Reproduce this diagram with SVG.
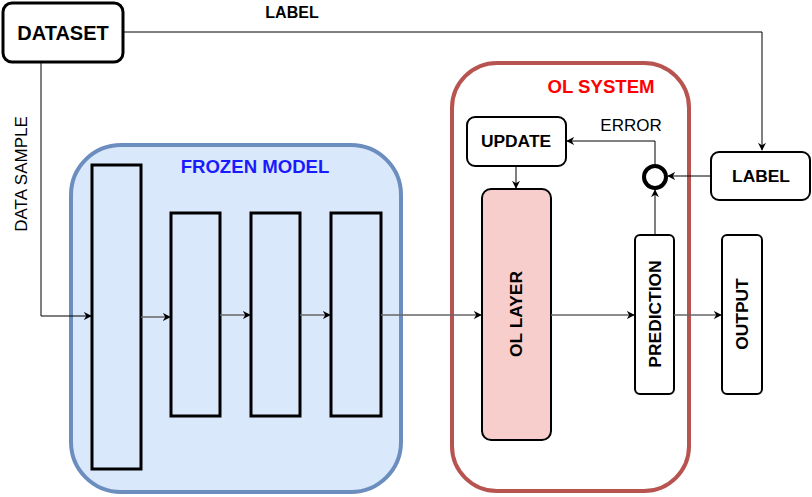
<svg xmlns="http://www.w3.org/2000/svg" width="812" height="497" viewBox="0 0 812 497">
<style>
text{font-family:"Liberation Sans",Arial,sans-serif;text-anchor:middle;dominant-baseline:central}
.b{font-weight:bold;font-size:17.4px;fill:#000}
.n{font-size:17px;fill:#000}
.box{fill:#fff;stroke:#000;stroke-width:2}
.layer{fill:#dae8fc;stroke:#000;stroke-width:3}
.c{fill:none;stroke:#000;stroke-width:1}
.g{fill:none;stroke:#666;stroke-width:1.5}
</style>
<defs>
<marker id="a" viewBox="0 0 10 10" refX="9" refY="5" markerWidth="8" markerHeight="8" markerUnits="userSpaceOnUse" orient="auto"><path d="M0,0 L10,5 L0,10 L3,5 z" fill="#000"/></marker>
</defs>
<g id="frozen-model">
<rect x="71" y="145" width="330" height="347" rx="50" fill="#dae8fc" stroke="#6c8ebf" stroke-width="4"/>
<text x="255" y="166" class="b" style="fill:#1a1aff;font-size:18.6px">FROZEN MODEL</text>
</g>
<g id="ol-system">
<rect x="452" y="63" width="237" height="428" rx="45" fill="#fff" stroke="#b85450" stroke-width="4"/>
<text x="601" y="86" class="b" style="fill:#ff0000;font-size:18.6px">OL SYSTEM</text>
</g>
<g id="layer1"><rect x="92" y="165" width="49" height="304" class="layer"/></g>
<g id="layer2"><rect x="171" y="213" width="49" height="203" class="layer"/></g>
<g id="layer3"><rect x="251" y="213" width="49" height="203" class="layer"/></g>
<g id="layer4"><rect x="331" y="213" width="50" height="203" class="layer"/></g>
<g id="dataset"><rect x="3" y="3" width="120" height="59" rx="9" fill="#fff" stroke="#000" stroke-width="3"/><text x="63" y="33" class="b" style="font-size:20px">DATASET</text></g>
<g id="label"><rect x="711" y="152" width="99" height="48" rx="8" class="box"/><text x="761" y="176" class="b">LABEL</text></g>
<g id="update"><rect x="467" y="117" width="99" height="49" rx="8" class="box"/><text x="516" y="141" class="b">UPDATE</text></g>
<g id="ol-layer"><rect x="482" y="189" width="69" height="251" rx="9" fill="#f8cecc" stroke="#000" stroke-width="2"/><text transform="translate(516,314) rotate(-90)" class="b">OL LAYER</text></g>
<g id="prediction"><rect x="635" y="235" width="39" height="159" rx="5" class="box"/><text transform="translate(655,314) rotate(-90)" class="b">PREDICTION</text></g>
<g id="output"><rect x="722" y="235" width="40" height="159" rx="5" class="box"/><text transform="translate(742,314) rotate(-90)" class="b">OUTPUT</text></g>
<g id="error-node"><circle cx="655" cy="177" r="11" fill="#fff" stroke="#000" stroke-width="4"/></g>
<g id="connectors">
<path d="M123,32 H762 V150" class="c" marker-end="url(#a)"/>
<path d="M41,62 V316 H91" class="c" marker-end="url(#a)"/>
<path d="M141,317 H170" class="g" marker-end="url(#a)"/>
<path d="M220,315 H250" class="g" marker-end="url(#a)"/>
<path d="M300,315 H330" class="g" marker-end="url(#a)"/>
<path d="M381,315 H481" class="g" marker-end="url(#a)"/>
<path d="M551,315 H634" class="g" marker-end="url(#a)"/>
<path d="M674,315 H721" class="g" marker-end="url(#a)"/>
<path d="M516,166 V188" class="c" marker-end="url(#a)"/>
<path d="M711,176 H668" class="c" marker-end="url(#a)"/>
<path d="M655,235 V190" class="c" marker-end="url(#a)"/>
<path d="M655,164 V141 H567" class="c" marker-end="url(#a)"/>
<text x="292" y="12" class="b" style="font-size:16px">LABEL</text>
<text x="631" y="125" class="n">ERROR</text>
<text transform="translate(21,174) rotate(-90)" class="n">DATA SAMPLE</text>
</g>
</svg>
